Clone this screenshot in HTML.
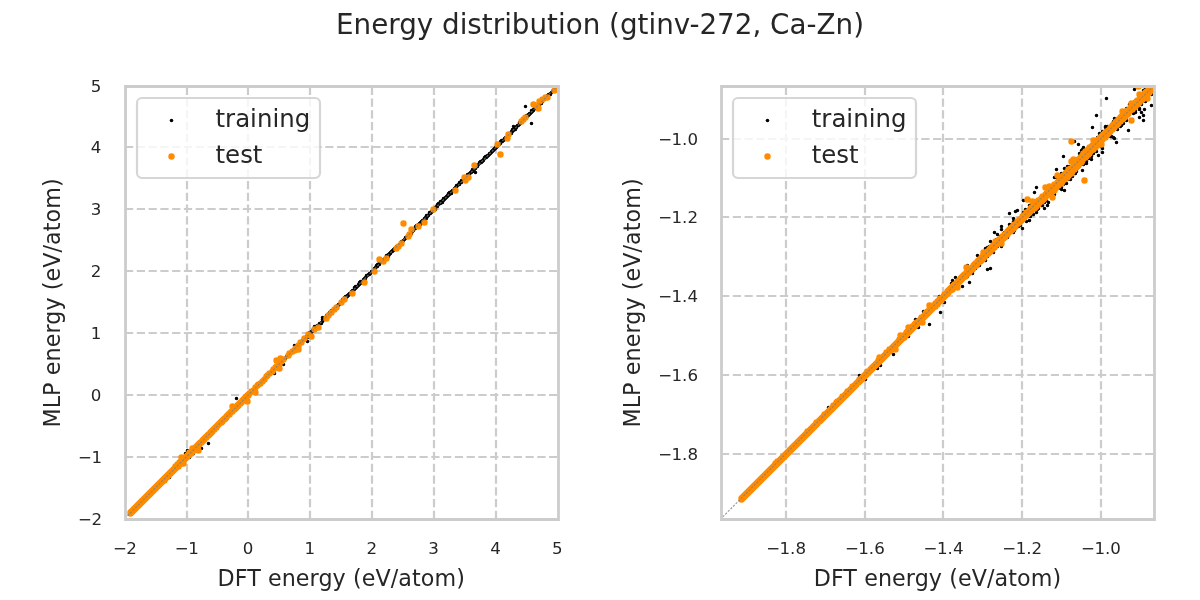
<!DOCTYPE html>
<html lang="en">
<head>
<meta charset="utf-8">
<title>Energy distribution (gtinv-272, Ca-Zn)</title>
<style>
html,body{margin:0;padding:0;background:#fff;}
body{width:1200px;height:600px;overflow:hidden;}
svg{display:block;}
text{font-family:"DejaVu Sans", "Liberation Sans", sans-serif;fill:#262626;}
.grid{stroke:#ccc;stroke-width:2.22;stroke-dasharray:8.22 3.56;fill:none;}
.spine{stroke:#ccc;stroke-width:2.78;stroke-linecap:square;fill:none;}
.diag{stroke:#808080;stroke-opacity:.8;stroke-width:1.15;stroke-dasharray:2.2 1.48;fill:none;}
.tr{stroke:#000;stroke-width:3.56;stroke-linecap:round;fill:none;}
.te{stroke:#ff8c00;stroke-width:6.4;stroke-linecap:round;fill:none;}
.tick{font-size:16.67px;}
.lab{font-size:22.22px;letter-spacing:.08px;}
.leg{font-size:24.44px;}
.title{font-size:27.78px;}
</style>
</head>
<body>
<svg width="1200" height="600" viewBox="0 0 1200 600">
<rect width="1200" height="600" fill="#fff"/>
<text class="title" x="336" y="34">Energy distribution (gtinv-272, Ca-Zn)</text>
<g id="axes0">
<clipPath id="clip0"><rect x="124.69" y="85.6" width="433.07" height="433.07"/></clipPath>
<path class="grid" d="M187 519V86M248 519V86M310 519V86M372 519V86M434 519V86M496 519V86M125 457H558M125 395H558M125 333H558M125 271H558M125 209H558M125 147H558"/>
<g clip-path="url(#clip0)">
<path class="tr" d="M164.5 478.5h0M165.5 477.5h0M165.5 478.5h0M166.5 477.5h0M166.5 476.5h0M167.5 475.5h0M167.5 474.5h0M168.5 475.5h0M169.5 473.5h0M169.5 474.5h0M170.5 472.5h0M170.5 473.5h0M171.5 472.5h0M171.5 471.5h0M172.5 470.5h0M172.5 469.5h0M172.5 471.5h0M173.5 470.5h0M174.5 468.5h0M174.5 467.5h0M175.5 469.5h0M175.5 467.5h0M176.5 467.5h0M177.5 467.5h0M177.5 466.5h0M178.5 466.5h0M178.5 464.5h0M178.5 465.5h0M179.5 465.5h0M179.5 463.5h0M180.5 464.5h0M181.5 463.5h0M181.5 461.5h0M182.5 462.5h0M182.5 461.5h0M183.5 459.5h0M183.5 458.5h0M183.5 460.5h0M184.5 460.5h0M184.5 459.5h0M185.5 459.5h0M185.5 456.5h0M186.5 457.5h0M186.5 455.5h0M187.5 454.5h0M187.5 455.5h0M187.5 456.5h0M188.5 454.5h0M188.5 453.5h0M189.5 455.5h0M189.5 454.5h0M190.5 454.5h0M190.5 452.5h0M190.5 453.5h0M191.5 451.5h0M191.5 452.5h0M192.5 452.5h0M192.5 451.5h0M193.5 449.5h0M193.5 450.5h0M193.5 448.5h0M194.5 449.5h0M195.5 449.5h0M143.5 499.5h0M148.5 494.5h0M149.5 494.5h0M151.5 492.5h0M153.5 490.5h0M155.5 488.5h0M156.5 487.5h0M157.5 486.5h0M159.5 485.5h0M161.5 484.5h0M161.5 482.5h0M157.5 485.5h0M158.5 483.5h0M161.5 481.5h0M163.5 478.5h0M163.5 479.5h0M164.5 480.5h0M165.5 479.5h0M168.5 474.5h0M168.5 473.5h0M169.5 472.5h0M169.5 471.5h0M170.5 471.5h0M170.5 470.5h0M168.5 477.5h0M169.5 477.5h0M167.5 476.5h0M165.5 476.5h0M180.5 459.5h0M179.5 461.5h0M180.5 461.5h0M176.5 464.5h0M176.5 465.5h0M174.5 466.5h0M173.5 468.5h0M172.5 468.5h0M174.5 469.5h0M174.5 470.5h0M175.5 468.5h0M176.5 468.5h0M178.5 467.5h0M183.5 461.5h0M179.5 462.5h0M180.5 462.5h0M182.5 457.5h0M183.5 457.5h0M187.5 450.5h0M185.5 453.5h0M185.5 455.5h0M191.5 449.5h0M194.5 451.5h0M193.5 452.5h0M193.5 453.5h0M192.5 453.5h0M190.5 455.5h0M188.5 456.5h0M189.5 457.5h0M186.5 458.5h0M185.5 458.5h0M186.5 459.5h0M185.5 460.5h0M195.5 447.5h0M195.5 448.5h0M196.5 447.5h0M196.5 446.5h0M197.5 445.5h0M197.5 446.5h0M198.5 444.5h0M199.5 443.5h0M199.5 442.5h0M200.5 443.5h0M200.5 441.5h0M201.5 441.5h0M201.5 442.5h0M202.5 440.5h0M202.5 441.5h0M203.5 439.5h0M203.5 440.5h0M204.5 438.5h0M204.5 439.5h0M205.5 437.5h0M206.5 437.5h0M206.5 436.5h0M207.5 437.5h0M207.5 436.5h0M208.5 434.5h0M208.5 435.5h0M208.5 433.5h0M209.5 433.5h0M210.5 433.5h0M210.5 432.5h0M211.5 432.5h0M211.5 431.5h0M212.5 430.5h0M213.5 429.5h0M213.5 430.5h0M214.5 428.5h0M215.5 427.5h0M215.5 426.5h0M215.5 428.5h0M216.5 426.5h0M216.5 425.5h0M217.5 426.5h0M217.5 425.5h0M218.5 424.5h0M219.5 424.5h0M220.5 422.5h0M221.5 421.5h0M222.5 421.5h0M222.5 420.5h0M223.5 419.5h0M224.5 419.5h0M224.5 418.5h0M225.5 417.5h0M225.5 418.5h0M226.5 417.5h0M226.5 416.5h0M227.5 415.5h0M228.5 415.5h0M228.5 414.5h0M229.5 412.5h0M229.5 414.5h0M230.5 413.5h0M231.5 412.5h0M231.5 411.5h0M232.5 411.5h0M233.5 409.5h0M234.5 409.5h0M234.5 408.5h0M235.5 407.5h0M236.5 407.5h0M237.5 405.5h0M238.5 405.5h0M238.5 404.5h0M239.5 404.5h0M239.5 403.5h0M240.5 403.5h0M240.5 401.5h0M241.5 402.5h0M242.5 400.5h0M242.5 399.5h0M243.5 401.5h0M243.5 400.5h0M244.5 398.5h0M244.5 397.5h0M245.5 398.5h0M245.5 396.5h0M246.5 398.5h0M246.5 397.5h0M247.5 395.5h0M248.5 395.5h0M248.5 394.5h0M249.5 394.5h0M249.5 392.5h0M250.5 392.5h0M250.5 393.5h0M251.5 392.5h0M252.5 390.5h0M253.5 389.5h0M253.5 390.5h0M254.5 389.5h0M254.5 388.5h0M255.5 388.5h0M255.5 386.5h0M256.5 388.5h0M256.5 386.5h0M257.5 386.5h0M258.5 384.5h0M259.5 384.5h0M259.5 383.5h0M260.5 382.5h0M260.5 383.5h0M261.5 382.5h0M262.5 380.5h0M262.5 381.5h0M263.5 381.5h0M263.5 379.5h0M264.5 378.5h0M265.5 377.5h0M266.5 377.5h0M266.5 376.5h0M267.5 376.5h0M268.5 374.5h0M268.5 373.5h0M269.5 374.5h0M269.5 373.5h0M270.5 373.5h0M270.5 372.5h0M271.5 371.5h0M272.5 370.5h0M273.5 370.5h0M274.5 369.5h0M274.5 368.5h0M275.5 367.5h0M275.5 368.5h0M276.5 367.5h0M276.5 366.5h0M277.5 365.5h0M277.5 366.5h0M278.5 365.5h0M278.5 363.5h0M279.5 364.5h0M279.5 363.5h0M280.5 363.5h0M280.5 362.5h0M281.5 361.5h0M281.5 362.5h0M282.5 360.5h0M283.5 360.5h0M283.5 359.5h0M284.5 358.5h0M285.5 358.5h0M286.5 356.5h0M287.5 356.5h0M287.5 355.5h0M288.5 354.5h0M289.5 353.5h0M289.5 352.5h0M290.5 353.5h0M290.5 352.5h0M291.5 352.5h0M291.5 351.5h0M292.5 350.5h0M292.5 351.5h0M293.5 350.5h0M293.5 349.5h0M294.5 349.5h0M294.5 348.5h0M295.5 349.5h0M295.5 348.5h0M296.5 348.5h0M296.5 346.5h0M297.5 345.5h0M298.5 344.5h0M298.5 345.5h0M299.5 343.5h0M299.5 344.5h0M300.5 343.5h0M300.5 342.5h0M301.5 342.5h0M301.5 341.5h0M302.5 341.5h0M302.5 340.5h0M303.5 338.5h0M304.5 339.5h0M304.5 338.5h0M305.5 339.5h0M305.5 338.5h0M306.5 336.5h0M306.5 337.5h0M307.5 337.5h0M307.5 334.5h0M308.5 335.5h0M309.5 334.5h0M309.5 333.5h0M309.5 332.5h0M310.5 332.5h0M311.5 332.5h0M311.5 331.5h0M312.5 330.5h0M312.5 331.5h0M313.5 330.5h0M313.5 328.5h0M314.5 328.5h0M315.5 328.5h0M315.5 326.5h0M315.5 327.5h0M316.5 327.5h0M317.5 325.5h0M318.5 325.5h0M319.5 323.5h0M320.5 323.5h0M321.5 323.5h0M321.5 322.5h0M322.5 321.5h0M322.5 319.5h0M323.5 319.5h0M324.5 319.5h0M324.5 318.5h0M325.5 318.5h0M326.5 316.5h0M326.5 317.5h0M326.5 315.5h0M327.5 315.5h0M327.5 314.5h0M328.5 315.5h0M328.5 314.5h0M329.5 314.5h0M329.5 312.5h0M330.5 314.5h0M330.5 313.5h0M331.5 312.5h0M331.5 310.5h0M332.5 310.5h0M332.5 311.5h0M333.5 309.5h0M334.5 308.5h0M334.5 309.5h0M335.5 308.5h0M336.5 307.5h0M337.5 305.5h0M338.5 305.5h0M338.5 304.5h0M339.5 304.5h0M340.5 303.5h0M340.5 302.5h0M341.5 301.5h0M342.5 301.5h0M342.5 299.5h0M343.5 300.5h0M343.5 299.5h0M344.5 299.5h0M344.5 297.5h0M345.5 297.5h0M345.5 296.5h0M346.5 297.5h0M347.5 296.5h0M347.5 295.5h0M348.5 294.5h0M348.5 295.5h0M349.5 294.5h0M349.5 293.5h0M350.5 293.5h0M351.5 292.5h0M351.5 291.5h0M352.5 290.5h0M352.5 291.5h0M353.5 291.5h0M353.5 290.5h0M354.5 289.5h0M354.5 287.5h0M355.5 287.5h0M355.5 288.5h0M355.5 286.5h0M356.5 287.5h0M357.5 286.5h0M358.5 285.5h0M358.5 284.5h0M359.5 283.5h0M359.5 284.5h0M359.5 282.5h0M360.5 281.5h0M360.5 283.5h0M361.5 282.5h0M362.5 281.5h0M363.5 279.5h0M364.5 279.5h0M364.5 278.5h0M365.5 277.5h0M365.5 278.5h0M366.5 276.5h0M366.5 275.5h0M367.5 275.5h0M368.5 274.5h0M369.5 273.5h0M369.5 274.5h0M370.5 273.5h0M371.5 272.5h0M371.5 271.5h0M372.5 271.5h0M373.5 270.5h0M374.5 269.5h0M374.5 268.5h0M375.5 267.5h0M375.5 268.5h0M376.5 265.5h0M377.5 266.5h0M377.5 264.5h0M378.5 264.5h0M379.5 264.5h0M379.5 262.5h0M380.5 262.5h0M381.5 261.5h0M381.5 260.5h0M382.5 260.5h0M383.5 259.5h0M384.5 259.5h0M385.5 257.5h0M385.5 258.5h0M386.5 257.5h0M386.5 255.5h0M387.5 256.5h0M387.5 255.5h0M388.5 256.5h0M388.5 254.5h0M389.5 254.5h0M389.5 253.5h0M390.5 253.5h0M390.5 252.5h0M391.5 251.5h0M392.5 250.5h0M392.5 251.5h0M393.5 249.5h0M393.5 250.5h0M394.5 248.5h0M395.5 248.5h0M396.5 246.5h0M397.5 246.5h0M398.5 245.5h0M399.5 244.5h0M400.5 243.5h0M401.5 241.5h0M402.5 242.5h0M402.5 241.5h0M403.5 240.5h0M404.5 239.5h0M405.5 238.5h0M405.5 237.5h0M406.5 237.5h0M407.5 236.5h0M407.5 235.5h0M408.5 235.5h0M408.5 234.5h0M409.5 234.5h0M410.5 232.5h0M410.5 233.5h0M411.5 233.5h0M411.5 230.5h0M412.5 230.5h0M412.5 231.5h0M413.5 229.5h0M413.5 230.5h0M414.5 228.5h0M415.5 227.5h0M415.5 228.5h0M415.5 226.5h0M416.5 227.5h0M416.5 225.5h0M417.5 226.5h0M418.5 224.5h0M419.5 223.5h0M420.5 224.5h0M420.5 223.5h0M420.5 222.5h0M421.5 222.5h0M421.5 221.5h0M422.5 221.5h0M422.5 220.5h0M423.5 220.5h0M424.5 218.5h0M425.5 217.5h0M426.5 218.5h0M426.5 215.5h0M427.5 215.5h0M427.5 216.5h0M428.5 215.5h0M429.5 213.5h0M429.5 212.5h0M430.5 212.5h0M430.5 213.5h0M431.5 212.5h0M431.5 211.5h0M432.5 211.5h0M432.5 209.5h0M433.5 210.5h0M433.5 209.5h0M434.5 208.5h0M434.5 209.5h0M435.5 209.5h0M435.5 207.5h0M436.5 206.5h0M437.5 206.5h0M437.5 204.5h0M438.5 204.5h0M438.5 203.5h0M439.5 203.5h0M440.5 203.5h0M440.5 201.5h0M441.5 201.5h0M441.5 202.5h0M442.5 202.5h0M442.5 200.5h0M443.5 200.5h0M443.5 198.5h0M444.5 199.5h0M444.5 198.5h0M445.5 197.5h0M445.5 198.5h0M446.5 197.5h0M446.5 196.5h0M447.5 196.5h0M447.5 195.5h0M448.5 195.5h0M448.5 194.5h0M449.5 194.5h0M449.5 192.5h0M450.5 193.5h0M450.5 192.5h0M451.5 193.5h0M451.5 191.5h0M452.5 190.5h0M453.5 190.5h0M454.5 190.5h0M454.5 188.5h0M455.5 187.5h0M456.5 187.5h0M456.5 186.5h0M456.5 185.5h0M457.5 185.5h0M458.5 184.5h0M459.5 184.5h0M459.5 182.5h0M460.5 182.5h0M461.5 182.5h0M461.5 181.5h0M461.5 180.5h0M462.5 181.5h0M462.5 180.5h0M463.5 179.5h0M464.5 179.5h0M464.5 178.5h0M464.5 177.5h0M465.5 177.5h0M466.5 176.5h0M466.5 177.5h0M467.5 176.5h0M467.5 174.5h0M468.5 175.5h0M469.5 173.5h0M469.5 174.5h0M470.5 172.5h0M471.5 172.5h0M471.5 171.5h0M472.5 171.5h0M472.5 169.5h0M473.5 169.5h0M473.5 170.5h0M474.5 169.5h0M474.5 168.5h0M475.5 168.5h0M475.5 166.5h0M476.5 166.5h0M477.5 166.5h0M477.5 165.5h0M478.5 164.5h0M479.5 163.5h0M480.5 162.5h0M480.5 161.5h0M481.5 162.5h0M482.5 161.5h0M482.5 160.5h0M483.5 160.5h0M483.5 159.5h0M484.5 158.5h0M484.5 157.5h0M485.5 157.5h0M485.5 156.5h0M486.5 157.5h0M487.5 155.5h0M487.5 156.5h0M488.5 155.5h0M489.5 154.5h0M489.5 153.5h0M490.5 153.5h0M491.5 151.5h0M491.5 152.5h0M492.5 151.5h0M492.5 150.5h0M493.5 150.5h0M493.5 149.5h0M494.5 148.5h0M494.5 149.5h0M495.5 147.5h0M495.5 148.5h0M496.5 147.5h0M496.5 145.5h0M497.5 146.5h0M498.5 145.5h0M499.5 144.5h0M499.5 143.5h0M500.5 143.5h0M500.5 141.5h0M501.5 140.5h0M501.5 141.5h0M502.5 141.5h0M502.5 140.5h0M503.5 140.5h0M504.5 138.5h0M505.5 139.5h0M505.5 137.5h0M506.5 138.5h0M506.5 137.5h0M507.5 136.5h0M508.5 135.5h0M508.5 134.5h0M509.5 134.5h0M509.5 133.5h0M510.5 133.5h0M511.5 133.5h0M511.5 131.5h0M512.5 131.5h0M512.5 130.5h0M512.5 129.5h0M513.5 130.5h0M514.5 128.5h0M515.5 129.5h0M515.5 127.5h0M516.5 126.5h0M516.5 127.5h0M517.5 125.5h0M518.5 125.5h0M519.5 124.5h0M519.5 123.5h0M519.5 122.5h0M520.5 123.5h0M520.5 121.5h0M521.5 121.5h0M522.5 120.5h0M523.5 118.5h0M523.5 119.5h0M524.5 119.5h0M524.5 117.5h0M525.5 117.5h0M526.5 117.5h0M526.5 115.5h0M527.5 115.5h0M527.5 116.5h0M528.5 115.5h0M528.5 114.5h0M529.5 114.5h0M529.5 113.5h0M530.5 113.5h0M531.5 112.5h0M531.5 110.5h0M532.5 111.5h0M532.5 110.5h0M533.5 109.5h0M533.5 110.5h0M534.5 108.5h0M535.5 108.5h0M535.5 107.5h0M536.5 106.5h0M536.5 107.5h0M537.5 105.5h0M537.5 106.5h0M538.5 104.5h0M539.5 103.5h0M539.5 104.5h0M540.5 102.5h0M541.5 103.5h0M541.5 102.5h0M542.5 100.5h0M542.5 101.5h0M543.5 99.5h0M544.5 99.5h0M544.5 98.5h0M545.5 98.5h0M546.5 96.5h0M547.5 95.5h0M548.5 94.5h0M549.5 94.5h0M550.5 94.5h0M550.5 93.5h0M551.5 92.5h0M552.5 91.5h0M553.5 89.5h0M554.5 89.5h0M555.5 88.5h0M208.5 443.5h0M201.5 448.5h0M236.5 398.5h0M307.5 341.5h0M283.5 364.5h0M274.5 373.5h0M294.5 345.5h0M314.5 326.5h0M322.5 317.5h0M440.5 202.5h0M448.5 193.5h0M479.5 162.5h0M475.5 172.5h0M525.5 106.5h0M531.5 123.5h0M513.5 126.5h0"/>
<path class="te" d="M130.5 513.5h0M130.5 512.5h0M131.5 512.5h0M131.5 511.5h0M132.5 511.5h0M132.5 510.5h0M133.5 510.5h0M133.5 509.5h0M134.5 509.5h0M134.5 508.5h0M135.5 508.5h0M135.5 507.5h0M136.5 507.5h0M136.5 506.5h0M137.5 506.5h0M137.5 505.5h0M138.5 505.5h0M138.5 504.5h0M139.5 504.5h0M139.5 503.5h0M140.5 503.5h0M140.5 502.5h0M141.5 502.5h0M141.5 501.5h0M142.5 501.5h0M142.5 500.5h0M143.5 500.5h0M143.5 499.5h0M144.5 499.5h0M144.5 498.5h0M145.5 498.5h0M145.5 497.5h0M146.5 497.5h0M146.5 496.5h0M147.5 496.5h0M147.5 495.5h0M148.5 495.5h0M148.5 494.5h0M149.5 494.5h0M149.5 493.5h0M150.5 493.5h0M150.5 492.5h0M151.5 492.5h0M151.5 491.5h0M152.5 491.5h0M152.5 490.5h0M153.5 490.5h0M153.5 489.5h0M154.5 489.5h0M154.5 488.5h0M155.5 488.5h0M155.5 487.5h0M156.5 487.5h0M156.5 486.5h0M157.5 486.5h0M157.5 485.5h0M158.5 485.5h0M158.5 484.5h0M159.5 484.5h0M159.5 483.5h0M160.5 483.5h0M160.5 482.5h0M161.5 482.5h0M161.5 481.5h0M162.5 481.5h0M162.5 480.5h0M163.5 480.5h0M163.5 479.5h0M164.5 479.5h0M164.5 478.5h0M165.5 478.5h0M165.5 477.5h0M166.5 477.5h0M166.5 476.5h0M167.5 476.5h0M167.5 475.5h0M168.5 475.5h0M168.5 474.5h0M169.5 474.5h0M169.5 473.5h0M170.5 473.5h0M170.5 472.5h0M171.5 472.5h0M171.5 471.5h0M172.5 471.5h0M172.5 470.5h0M173.5 470.5h0M173.5 469.5h0M174.5 469.5h0M174.5 468.5h0M175.5 468.5h0M175.5 467.5h0M176.5 467.5h0M176.5 466.5h0M177.5 466.5h0M177.5 465.5h0M178.5 465.5h0M178.5 464.5h0M179.5 464.5h0M179.5 463.5h0M180.5 463.5h0M180.5 462.5h0M181.5 462.5h0M181.5 461.5h0M182.5 461.5h0M182.5 460.5h0M183.5 460.5h0M183.5 461.5h0M183.5 459.5h0M184.5 459.5h0M184.5 458.5h0M185.5 458.5h0M185.5 457.5h0M186.5 457.5h0M186.5 456.5h0M187.5 456.5h0M187.5 455.5h0M188.5 455.5h0M188.5 454.5h0M189.5 454.5h0M189.5 453.5h0M190.5 453.5h0M190.5 452.5h0M191.5 452.5h0M191.5 451.5h0M192.5 451.5h0M192.5 450.5h0M193.5 450.5h0M193.5 449.5h0M194.5 449.5h0M194.5 448.5h0M195.5 448.5h0M164.5 480.5h0M183.5 463.5h0M175.5 466.5h0M177.5 464.5h0M179.5 462.5h0M178.5 466.5h0M181.5 460.5h0M181.5 457.5h0M191.5 453.5h0M189.5 452.5h0M192.5 448.5h0M192.5 449.5h0M195.5 447.5h0M196.5 446.5h0M197.5 445.5h0M198.5 445.5h0M198.5 444.5h0M199.5 444.5h0M199.5 443.5h0M200.5 442.5h0M201.5 442.5h0M202.5 441.5h0M202.5 440.5h0M203.5 440.5h0M203.5 439.5h0M204.5 439.5h0M204.5 438.5h0M205.5 437.5h0M206.5 437.5h0M206.5 436.5h0M207.5 435.5h0M208.5 435.5h0M208.5 434.5h0M209.5 434.5h0M210.5 433.5h0M210.5 432.5h0M211.5 432.5h0M211.5 431.5h0M212.5 431.5h0M212.5 430.5h0M213.5 429.5h0M214.5 429.5h0M214.5 428.5h0M215.5 427.5h0M216.5 427.5h0M216.5 426.5h0M217.5 425.5h0M218.5 424.5h0M219.5 423.5h0M220.5 422.5h0M221.5 422.5h0M221.5 421.5h0M222.5 421.5h0M222.5 420.5h0M223.5 419.5h0M224.5 419.5h0M224.5 418.5h0M225.5 418.5h0M226.5 417.5h0M226.5 416.5h0M227.5 415.5h0M228.5 414.5h0M229.5 414.5h0M229.5 413.5h0M230.5 412.5h0M231.5 411.5h0M232.5 411.5h0M232.5 410.5h0M233.5 409.5h0M234.5 409.5h0M234.5 408.5h0M235.5 408.5h0M235.5 407.5h0M236.5 407.5h0M237.5 406.5h0M237.5 405.5h0M238.5 405.5h0M238.5 404.5h0M239.5 403.5h0M240.5 403.5h0M240.5 402.5h0M241.5 402.5h0M242.5 400.5h0M243.5 399.5h0M244.5 398.5h0M245.5 398.5h0M245.5 397.5h0M246.5 397.5h0M246.5 396.5h0M247.5 395.5h0M248.5 395.5h0M248.5 394.5h0M249.5 393.5h0M251.5 391.5h0M253.5 390.5h0M255.5 387.5h0M257.5 385.5h0M258.5 384.5h0M260.5 383.5h0M262.5 381.5h0M264.5 379.5h0M266.5 376.5h0M267.5 375.5h0M269.5 373.5h0M272.5 371.5h0M273.5 369.5h0M275.5 367.5h0M276.5 366.5h0M279.5 364.5h0M281.5 361.5h0M283.5 359.5h0M288.5 355.5h0M289.5 353.5h0M292.5 351.5h0M295.5 348.5h0M298.5 345.5h0M300.5 342.5h0M232.5 406.5h0M198.5 450.5h0M276.5 360.5h0M280.5 358.5h0M247.5 401.5h0M255.5 392.5h0M279.5 368.5h0M298.5 349.5h0M294.5 350.5h0M298.5 346.5h0M301.5 342.5h0M304.5 338.5h0M311.5 336.5h0M308.5 334.5h0M314.5 329.5h0M318.5 327.5h0M326.5 318.5h0M328.5 315.5h0M331.5 312.5h0M334.5 309.5h0M336.5 307.5h0M341.5 302.5h0M344.5 299.5h0M352.5 293.5h0M364.5 282.5h0M374.5 271.5h0M379.5 259.5h0M383.5 261.5h0M386.5 258.5h0M396.5 248.5h0M398.5 246.5h0M401.5 243.5h0M408.5 236.5h0M409.5 234.5h0M411.5 229.5h0M403.5 223.5h0M418.5 226.5h0M424.5 222.5h0M433.5 209.5h0M455.5 190.5h0M464.5 177.5h0M468.5 177.5h0M465.5 180.5h0M474.5 165.5h0M497.5 144.5h0M500.5 154.5h0M508.5 134.5h0M507.5 138.5h0M521.5 121.5h0M523.5 119.5h0M525.5 117.5h0M533.5 104.5h0M538.5 108.5h0M539.5 101.5h0M542.5 99.5h0M545.5 97.5h0M547.5 97.5h0M554.5 90.5h0M537.5 106.5h0"/>
<path class="diag" stroke-dashoffset="-0.9" d="M121.69 521.67L560.76 82.6"/>
</g>
<path class="spine" d="M125.5 519.5V86.5M558.5 519.5V86.5M125.5 519.5H558.5M125.5 86.5H558.5"/>
<rect x="137" y="98" width="183" height="80" rx="4.89" ry="4.89" fill="#fff" fill-opacity="0.8" stroke="#ccc" stroke-opacity="0.8" stroke-width="2.22"/>
<circle cx="171.5" cy="120.5" r="1.78" fill="#000"/>
<circle cx="171.5" cy="156.5" r="3.2" fill="#ff8c00"/>
<text class="leg" x="215.53" y="126.6">training</text>
<text class="leg" x="215.53" y="162.82">test</text>
<text class="tick" text-anchor="middle" x="124.29" y="553.95"><tspan dx="0.6">−</tspan><tspan dx="-0.6">2</tspan></text>
<text class="tick" text-anchor="middle" x="186.15" y="553.95"><tspan dx="0.6">−</tspan><tspan dx="-0.6">1</tspan></text>
<text class="tick" text-anchor="middle" x="248.02" y="553.95">0</text>
<text class="tick" text-anchor="middle" x="309.89" y="553.95">1</text>
<text class="tick" text-anchor="middle" x="371.75" y="553.95">2</text>
<text class="tick" text-anchor="middle" x="433.62" y="553.95">3</text>
<text class="tick" text-anchor="middle" x="495.49" y="553.95">4</text>
<text class="tick" text-anchor="middle" x="557.36" y="553.95">5</text>
<text class="tick" text-anchor="end" x="101.4" y="524.67"><tspan dx="0.6">−</tspan><tspan dx="-0.6">2</tspan></text>
<text class="tick" text-anchor="end" x="101.4" y="462.8"><tspan dx="0.6">−</tspan><tspan dx="-0.6">1</tspan></text>
<text class="tick" text-anchor="end" x="101.4" y="400.94">0</text>
<text class="tick" text-anchor="end" x="101.4" y="339.07">1</text>
<text class="tick" text-anchor="end" x="101.4" y="277.2">2</text>
<text class="tick" text-anchor="end" x="101.4" y="215.33">3</text>
<text class="tick" text-anchor="end" x="101.4" y="153.47">4</text>
<text class="tick" text-anchor="end" x="101.4" y="91.6">5</text>
<text class="lab" text-anchor="middle" x="341.22" y="586">DFT energy (eV/atom)</text>
<text class="lab" text-anchor="middle" transform="translate(60 302.93) rotate(-90)">MLP energy (eV/atom)</text>
</g>
<g id="axes1">
<clipPath id="clip1"><rect x="720.91" y="85.6" width="433.07" height="433.07"/></clipPath>
<path class="grid" d="M786 519V86M865 519V86M943 519V86M1022 519V86M1101 519V86M721 454H1154M721 375H1154M721 296H1154M721 217H1154M721 139H1154"/>
<g clip-path="url(#clip1)">
<path class="tr" d="M960.5 278.5h0M962.5 279.5h0M965.5 272.5h0M967.5 276.5h0M970.5 273.5h0M971.5 266.5h0M975.5 268.5h0M977.5 259.5h0M978.5 258.5h0M982.5 253.5h0M985.5 257.5h0M987.5 256.5h0M989.5 246.5h0M993.5 250.5h0M996.5 239.5h0M997.5 246.5h0M1000.5 236.5h0M1002.5 241.5h0M1004.5 232.5h0M1007.5 237.5h0M1011.5 224.5h0M1013.5 221.5h0M1014.5 230.5h0M1018.5 226.5h0M1020.5 225.5h0M1023.5 212.5h0M1025.5 209.5h0M1028.5 216.5h0M1030.5 216.5h0M1032.5 203.5h0M1037.5 209.5h0M1038.5 208.5h0M1041.5 205.5h0M1044.5 202.5h0M1046.5 200.5h0M1047.5 187.5h0M1051.5 196.5h0M1054.5 194.5h0M1057.5 178.5h0M1060.5 188.5h0M1061.5 187.5h0M1063.5 184.5h0M1067.5 179.5h0M1069.5 166.5h0M1072.5 176.5h0M1074.5 173.5h0M1076.5 171.5h0M1079.5 153.5h0M1081.5 150.5h0M1083.5 164.5h0M1086.5 161.5h0M1088.5 158.5h0M1091.5 154.5h0M1093.5 153.5h0M1097.5 137.5h0M1100.5 145.5h0M1102.5 131.5h0M1105.5 126.5h0M1106.5 127.5h0M1110.5 136.5h0M1113.5 121.5h0M1114.5 118.5h0M1117.5 129.5h0M1120.5 126.5h0M1123.5 123.5h0M1126.5 108.5h0M1126.5 120.5h0M1129.5 104.5h0M1133.5 113.5h0M1135.5 110.5h0M1139.5 108.5h0M1141.5 104.5h0M1143.5 90.5h0M1145.5 101.5h0M1147.5 87.5h0M1151.5 94.5h0M1154.5 91.5h0M828.5 407.5h0M859.5 375.5h0M865.5 379.5h0M880.5 365.5h0M893.5 354.5h0M900.5 342.5h0M908.5 336.5h0M918.5 327.5h0M929.5 324.5h0M940.5 312.5h0M944.5 302.5h0M915.5 319.5h0M923.5 311.5h0M877.5 368.5h0M939.5 296.5h0M955.5 277.5h0M952.5 280.5h0M951.5 283.5h0M962.5 286.5h0M969.5 282.5h0M977.5 255.5h0M985.5 248.5h0M987.5 247.5h0M990.5 241.5h0M994.5 232.5h0M997.5 234.5h0M1001.5 226.5h0M1001.5 229.5h0M1009.5 224.5h0M987.5 269.5h0M990.5 268.5h0M993.5 252.5h0M1001.5 246.5h0M985.5 260.5h0M979.5 265.5h0M1013.5 232.5h0M972.5 273.5h0M967.5 265.5h0M1063.5 156.5h0M1056.5 169.5h0M1064.5 168.5h0M1067.5 166.5h0M1036.5 187.5h0M1034.5 192.5h0M1023.5 200.5h0M1017.5 210.5h0M1015.5 211.5h0M1009.5 213.5h0M1013.5 218.5h0M1029.5 205.5h0M1029.5 220.5h0M1026.5 221.5h0M1022.5 228.5h0M1033.5 214.5h0M1036.5 212.5h0M1044.5 208.5h0M1042.5 205.5h0M1047.5 205.5h0M1048.5 202.5h0M1061.5 189.5h0M1064.5 190.5h0M1066.5 183.5h0M1070.5 179.5h0M1075.5 173.5h0M1082.5 170.5h0M1086.5 163.5h0M1054.5 177.5h0M1061.5 173.5h0M1074.5 141.5h0M1078.5 144.5h0M1106.5 98.5h0M1096.5 115.5h0M1092.5 127.5h0M1134.5 89.5h0M1151.5 105.5h0M1144.5 109.5h0M1139.5 109.5h0M1141.5 112.5h0M1143.5 115.5h0M1139.5 117.5h0M1143.5 120.5h0M1128.5 130.5h0M1121.5 125.5h0M1113.5 137.5h0M1111.5 136.5h0M1114.5 138.5h0M1116.5 142.5h0M1107.5 126.5h0M1105.5 127.5h0M1099.5 133.5h0M1083.5 147.5h0M1082.5 149.5h0M1102.5 148.5h0M1101.5 146.5h0M1096.5 151.5h0M1102.5 152.5h0M1098.5 155.5h0M1091.5 156.5h0M1091.5 159.5h0M1135.5 112.5h0M1145.5 88.5h0M1155.5 79.5h0M1158.5 84.5h0"/>
<path class="te" d="M741.5 499.5h0M741.5 498.5h0M742.5 498.5h0M742.5 497.5h0M743.5 497.5h0M743.5 496.5h0M744.5 496.5h0M744.5 495.5h0M745.5 495.5h0M745.5 494.5h0M746.5 494.5h0M746.5 493.5h0M747.5 493.5h0M747.5 492.5h0M748.5 492.5h0M748.5 491.5h0M749.5 491.5h0M749.5 490.5h0M750.5 490.5h0M750.5 489.5h0M751.5 489.5h0M751.5 488.5h0M752.5 488.5h0M752.5 487.5h0M753.5 486.5h0M753.5 487.5h0M754.5 486.5h0M754.5 485.5h0M755.5 485.5h0M755.5 484.5h0M756.5 483.5h0M756.5 484.5h0M757.5 483.5h0M757.5 482.5h0M758.5 482.5h0M758.5 481.5h0M759.5 481.5h0M759.5 480.5h0M760.5 480.5h0M760.5 479.5h0M761.5 478.5h0M761.5 479.5h0M762.5 478.5h0M762.5 477.5h0M763.5 476.5h0M763.5 477.5h0M764.5 476.5h0M764.5 475.5h0M765.5 475.5h0M765.5 474.5h0M766.5 474.5h0M766.5 473.5h0M767.5 473.5h0M767.5 472.5h0M768.5 471.5h0M768.5 472.5h0M769.5 471.5h0M769.5 470.5h0M770.5 470.5h0M770.5 469.5h0M771.5 468.5h0M771.5 469.5h0M772.5 468.5h0M772.5 467.5h0M773.5 467.5h0M773.5 466.5h0M774.5 466.5h0M774.5 465.5h0M775.5 465.5h0M775.5 464.5h0M775.5 463.5h0M776.5 464.5h0M776.5 463.5h0M777.5 463.5h0M777.5 462.5h0M777.5 461.5h0M778.5 462.5h0M778.5 461.5h0M779.5 461.5h0M779.5 460.5h0M780.5 459.5h0M780.5 460.5h0M781.5 459.5h0M781.5 458.5h0M782.5 458.5h0M782.5 457.5h0M783.5 457.5h0M783.5 456.5h0M784.5 456.5h0M784.5 455.5h0M785.5 455.5h0M785.5 454.5h0M786.5 453.5h0M786.5 454.5h0M787.5 453.5h0M787.5 452.5h0M788.5 452.5h0M788.5 451.5h0M789.5 451.5h0M789.5 450.5h0M790.5 449.5h0M790.5 450.5h0M791.5 448.5h0M791.5 449.5h0M792.5 448.5h0M792.5 447.5h0M793.5 447.5h0M793.5 446.5h0M794.5 446.5h0M794.5 445.5h0M795.5 445.5h0M795.5 444.5h0M796.5 444.5h0M796.5 443.5h0M797.5 443.5h0M797.5 442.5h0M798.5 442.5h0M798.5 441.5h0M799.5 440.5h0M799.5 441.5h0M800.5 440.5h0M800.5 439.5h0M801.5 439.5h0M801.5 438.5h0M802.5 438.5h0M802.5 437.5h0M803.5 437.5h0M803.5 436.5h0M804.5 436.5h0M804.5 435.5h0M805.5 435.5h0M805.5 434.5h0M806.5 434.5h0M806.5 433.5h0M807.5 432.5h0M807.5 433.5h0M807.5 431.5h0M808.5 432.5h0M808.5 431.5h0M809.5 431.5h0M809.5 430.5h0M810.5 430.5h0M810.5 429.5h0M811.5 429.5h0M811.5 428.5h0M812.5 428.5h0M812.5 427.5h0M813.5 427.5h0M813.5 426.5h0M814.5 426.5h0M814.5 425.5h0M815.5 425.5h0M815.5 424.5h0M816.5 424.5h0M816.5 423.5h0M816.5 422.5h0M817.5 423.5h0M817.5 422.5h0M818.5 421.5h0M819.5 421.5h0M819.5 420.5h0M820.5 420.5h0M820.5 419.5h0M821.5 419.5h0M821.5 418.5h0M822.5 418.5h0M822.5 417.5h0M823.5 416.5h0M823.5 417.5h0M824.5 416.5h0M824.5 415.5h0M824.5 414.5h0M825.5 415.5h0M825.5 414.5h0M826.5 414.5h0M826.5 413.5h0M827.5 412.5h0M827.5 413.5h0M828.5 412.5h0M828.5 411.5h0M829.5 411.5h0M829.5 410.5h0M830.5 410.5h0M830.5 409.5h0M831.5 409.5h0M831.5 408.5h0M832.5 408.5h0M832.5 407.5h0M833.5 406.5h0M833.5 407.5h0M833.5 405.5h0M834.5 406.5h0M834.5 405.5h0M835.5 405.5h0M835.5 404.5h0M836.5 404.5h0M836.5 403.5h0M836.5 402.5h0M837.5 403.5h0M837.5 402.5h0M837.5 401.5h0M838.5 402.5h0M838.5 401.5h0M839.5 401.5h0M839.5 400.5h0M840.5 399.5h0M840.5 400.5h0M841.5 399.5h0M841.5 398.5h0M842.5 398.5h0M842.5 397.5h0M842.5 396.5h0M843.5 397.5h0M843.5 396.5h0M844.5 396.5h0M844.5 395.5h0M845.5 395.5h0M845.5 394.5h0M846.5 394.5h0M846.5 393.5h0M847.5 393.5h0M847.5 392.5h0M847.5 391.5h0M848.5 391.5h0M848.5 392.5h0M849.5 390.5h0M849.5 391.5h0M850.5 389.5h0M850.5 390.5h0M851.5 388.5h0M851.5 389.5h0M852.5 388.5h0M852.5 387.5h0M852.5 386.5h0M853.5 387.5h0M853.5 386.5h0M854.5 386.5h0M854.5 385.5h0M855.5 384.5h0M855.5 385.5h0M856.5 384.5h0M856.5 383.5h0M857.5 382.5h0M858.5 382.5h0M858.5 381.5h0M859.5 381.5h0M859.5 380.5h0M859.5 379.5h0M860.5 379.5h0M860.5 380.5h0M861.5 378.5h0M861.5 379.5h0M862.5 378.5h0M862.5 377.5h0M863.5 377.5h0M863.5 376.5h0M864.5 376.5h0M864.5 375.5h0M865.5 375.5h0M865.5 374.5h0M866.5 374.5h0M866.5 373.5h0M867.5 373.5h0M867.5 372.5h0M867.5 371.5h0M868.5 371.5h0M868.5 372.5h0M869.5 371.5h0M870.5 370.5h0M870.5 369.5h0M871.5 369.5h0M871.5 368.5h0M872.5 368.5h0M872.5 367.5h0M873.5 367.5h0M873.5 366.5h0M874.5 365.5h0M874.5 366.5h0M875.5 365.5h0M875.5 364.5h0M876.5 364.5h0M876.5 363.5h0M877.5 363.5h0M877.5 362.5h0M878.5 362.5h0M878.5 361.5h0M878.5 360.5h0M879.5 361.5h0M879.5 360.5h0M880.5 359.5h0M880.5 360.5h0M881.5 358.5h0M881.5 359.5h0M882.5 358.5h0M882.5 357.5h0M883.5 356.5h0M883.5 357.5h0M884.5 356.5h0M884.5 355.5h0M885.5 355.5h0M885.5 354.5h0M886.5 354.5h0M886.5 353.5h0M886.5 352.5h0M887.5 352.5h0M887.5 353.5h0M888.5 351.5h0M889.5 350.5h0M889.5 351.5h0M889.5 349.5h0M890.5 349.5h0M890.5 350.5h0M891.5 348.5h0M891.5 349.5h0M892.5 348.5h0M892.5 347.5h0M893.5 348.5h0M893.5 346.5h0M893.5 347.5h0M894.5 346.5h0M894.5 345.5h0M895.5 344.5h0M895.5 345.5h0M896.5 344.5h0M896.5 343.5h0M897.5 343.5h0M897.5 342.5h0M898.5 342.5h0M898.5 341.5h0M899.5 341.5h0M899.5 340.5h0M899.5 339.5h0M900.5 340.5h0M900.5 339.5h0M900.5 338.5h0M901.5 339.5h0M901.5 338.5h0M902.5 337.5h0M902.5 338.5h0M902.5 336.5h0M903.5 337.5h0M903.5 336.5h0M904.5 337.5h0M904.5 336.5h0M904.5 335.5h0M905.5 335.5h0M905.5 334.5h0M906.5 333.5h0M906.5 334.5h0M906.5 332.5h0M907.5 333.5h0M907.5 332.5h0M907.5 331.5h0M908.5 332.5h0M908.5 331.5h0M909.5 330.5h0M909.5 331.5h0M910.5 330.5h0M910.5 329.5h0M911.5 329.5h0M911.5 328.5h0M912.5 328.5h0M912.5 327.5h0M912.5 326.5h0M913.5 327.5h0M913.5 326.5h0M914.5 326.5h0M914.5 325.5h0M914.5 324.5h0M915.5 324.5h0M915.5 325.5h0M915.5 323.5h0M916.5 324.5h0M916.5 323.5h0M916.5 322.5h0M917.5 323.5h0M917.5 322.5h0M918.5 321.5h0M919.5 321.5h0M919.5 320.5h0M920.5 319.5h0M920.5 320.5h0M921.5 320.5h0M921.5 319.5h0M921.5 318.5h0M921.5 317.5h0M922.5 317.5h0M922.5 318.5h0M923.5 317.5h0M923.5 316.5h0M924.5 316.5h0M924.5 315.5h0M925.5 315.5h0M925.5 314.5h0M925.5 313.5h0M926.5 314.5h0M926.5 313.5h0M926.5 312.5h0M927.5 313.5h0M927.5 312.5h0M927.5 311.5h0M928.5 311.5h0M928.5 312.5h0M929.5 310.5h0M929.5 311.5h0M929.5 309.5h0M930.5 310.5h0M930.5 309.5h0M930.5 308.5h0M931.5 309.5h0M931.5 308.5h0M932.5 308.5h0M932.5 307.5h0M932.5 306.5h0M933.5 307.5h0M933.5 306.5h0M933.5 305.5h0M934.5 305.5h0M934.5 306.5h0M935.5 306.5h0M935.5 305.5h0M935.5 304.5h0M935.5 303.5h0M936.5 304.5h0M936.5 303.5h0M937.5 304.5h0M937.5 302.5h0M937.5 303.5h0M937.5 301.5h0M938.5 302.5h0M938.5 301.5h0M939.5 300.5h0M939.5 301.5h0M939.5 299.5h0M940.5 299.5h0M940.5 300.5h0M940.5 298.5h0M941.5 300.5h0M941.5 298.5h0M941.5 299.5h0M942.5 297.5h0M942.5 298.5h0M943.5 297.5h0M943.5 296.5h0M944.5 296.5h0M944.5 295.5h0M944.5 294.5h0M945.5 295.5h0M945.5 294.5h0M946.5 293.5h0M946.5 294.5h0M947.5 293.5h0M947.5 291.5h0M947.5 292.5h0M948.5 292.5h0M948.5 290.5h0M949.5 290.5h0M949.5 289.5h0M950.5 290.5h0M950.5 289.5h0M950.5 288.5h0M951.5 288.5h0M951.5 289.5h0M951.5 287.5h0M952.5 289.5h0M952.5 287.5h0M952.5 288.5h0M952.5 286.5h0M953.5 287.5h0M953.5 286.5h0M953.5 285.5h0M954.5 285.5h0M954.5 286.5h0M954.5 284.5h0M955.5 285.5h0M955.5 284.5h0M956.5 284.5h0M956.5 283.5h0M957.5 282.5h0M957.5 283.5h0M957.5 281.5h0M958.5 282.5h0M958.5 281.5h0M959.5 281.5h0M959.5 280.5h0M960.5 280.5h0M960.5 279.5h0M960.5 278.5h0M961.5 279.5h0M961.5 278.5h0M961.5 277.5h0M962.5 278.5h0M962.5 277.5h0M962.5 276.5h0M963.5 276.5h0M963.5 277.5h0M963.5 275.5h0M964.5 275.5h0M964.5 274.5h0M965.5 276.5h0M965.5 274.5h0M965.5 275.5h0M966.5 274.5h0M966.5 273.5h0M966.5 272.5h0M967.5 273.5h0M967.5 272.5h0M968.5 272.5h0M968.5 271.5h0M968.5 270.5h0M969.5 272.5h0M969.5 270.5h0M969.5 271.5h0M969.5 269.5h0M970.5 270.5h0M970.5 269.5h0M970.5 268.5h0M971.5 269.5h0M971.5 268.5h0M972.5 268.5h0M972.5 269.5h0M972.5 267.5h0M973.5 267.5h0M973.5 266.5h0M973.5 265.5h0M974.5 266.5h0M974.5 265.5h0M974.5 264.5h0M975.5 264.5h0M975.5 265.5h0M975.5 263.5h0M976.5 265.5h0M976.5 263.5h0M976.5 264.5h0M977.5 263.5h0M977.5 262.5h0M977.5 261.5h0M978.5 261.5h0M978.5 262.5h0M978.5 260.5h0M979.5 260.5h0M979.5 261.5h0M979.5 259.5h0M980.5 261.5h0M980.5 260.5h0M980.5 259.5h0M981.5 259.5h0M981.5 260.5h0M981.5 258.5h0M981.5 257.5h0M982.5 259.5h0M982.5 257.5h0M982.5 258.5h0M982.5 256.5h0M983.5 256.5h0M983.5 258.5h0M983.5 257.5h0M984.5 255.5h0M984.5 256.5h0M984.5 254.5h0M985.5 254.5h0M985.5 255.5h0M986.5 253.5h0M986.5 254.5h0M986.5 252.5h0M987.5 252.5h0M987.5 253.5h0M987.5 251.5h0M988.5 253.5h0M988.5 251.5h0M988.5 252.5h0M989.5 252.5h0M989.5 249.5h0M989.5 250.5h0M989.5 251.5h0M990.5 249.5h0M990.5 250.5h0M990.5 251.5h0M990.5 248.5h0M991.5 249.5h0M991.5 248.5h0M991.5 247.5h0M992.5 249.5h0M992.5 247.5h0M992.5 246.5h0M992.5 248.5h0M993.5 246.5h0M993.5 247.5h0M993.5 245.5h0M994.5 245.5h0M994.5 246.5h0M994.5 247.5h0M994.5 244.5h0M995.5 244.5h0M995.5 245.5h0M996.5 244.5h0M996.5 243.5h0M997.5 242.5h0M997.5 243.5h0M997.5 241.5h0M998.5 241.5h0M998.5 242.5h0M998.5 240.5h0M999.5 241.5h0M999.5 242.5h0M999.5 240.5h0M999.5 239.5h0M1000.5 240.5h0M1000.5 239.5h0M1001.5 240.5h0M1001.5 238.5h0M1001.5 239.5h0M1002.5 238.5h0M1002.5 237.5h0M1002.5 236.5h0M1003.5 237.5h0M1003.5 236.5h0M1003.5 238.5h0M1004.5 235.5h0M1004.5 237.5h0M1004.5 236.5h0M1004.5 234.5h0M1005.5 236.5h0M1005.5 235.5h0M1005.5 234.5h0M1006.5 233.5h0M1006.5 234.5h0M1007.5 234.5h0M1007.5 233.5h0M1007.5 232.5h0M1007.5 231.5h0M1008.5 232.5h0M1008.5 230.5h0M1008.5 231.5h0M1009.5 230.5h0M1009.5 231.5h0M1009.5 229.5h0M1010.5 231.5h0M1010.5 229.5h0M1010.5 230.5h0M1010.5 228.5h0M1011.5 228.5h0M1011.5 230.5h0M1011.5 229.5h0M1011.5 227.5h0M1012.5 227.5h0M1012.5 229.5h0M1012.5 228.5h0M1013.5 227.5h0M1013.5 226.5h0M1013.5 228.5h0M1013.5 225.5h0M1014.5 225.5h0M1014.5 226.5h0M1014.5 227.5h0M1014.5 224.5h0M1015.5 225.5h0M1015.5 226.5h0M1015.5 224.5h0M1016.5 224.5h0M1016.5 223.5h0M1017.5 222.5h0M1017.5 223.5h0M1017.5 221.5h0M1018.5 221.5h0M1018.5 223.5h0M1018.5 222.5h0M1019.5 221.5h0M1019.5 222.5h0M1019.5 219.5h0M1020.5 220.5h0M1020.5 221.5h0M1020.5 219.5h0M1021.5 219.5h0M1021.5 218.5h0M1021.5 220.5h0M1022.5 217.5h0M1022.5 218.5h0M1022.5 219.5h0M1022.5 216.5h0M1023.5 217.5h0M1023.5 215.5h0M1023.5 218.5h0M1023.5 216.5h0M1024.5 216.5h0M1024.5 215.5h0M1024.5 217.5h0M1025.5 214.5h0M1025.5 215.5h0M1026.5 213.5h0M1026.5 215.5h0M1026.5 214.5h0M1026.5 212.5h0M1027.5 214.5h0M1027.5 213.5h0M1027.5 212.5h0M1028.5 212.5h0M1028.5 211.5h0M1028.5 213.5h0M1029.5 212.5h0M1029.5 210.5h0M1029.5 211.5h0M1030.5 211.5h0M1030.5 210.5h0M1030.5 208.5h0M1030.5 209.5h0M1031.5 209.5h0M1031.5 210.5h0M1031.5 207.5h0M1032.5 207.5h0M1032.5 208.5h0M1033.5 206.5h0M1033.5 207.5h0M1033.5 208.5h0M1034.5 208.5h0M1034.5 207.5h0M1034.5 206.5h0M1034.5 205.5h0M1035.5 207.5h0M1035.5 205.5h0M1035.5 203.5h0M1035.5 204.5h0M1036.5 203.5h0M1036.5 206.5h0M1036.5 205.5h0M1036.5 204.5h0M1036.5 202.5h0M1037.5 204.5h0M1037.5 202.5h0M1037.5 203.5h0M1037.5 201.5h0M1038.5 204.5h0M1038.5 201.5h0M1038.5 203.5h0M1038.5 200.5h0M1039.5 200.5h0M1039.5 201.5h0M1039.5 202.5h0M1040.5 199.5h0M1040.5 201.5h0M1040.5 200.5h0M1041.5 200.5h0M1041.5 201.5h0M1041.5 198.5h0M1042.5 199.5h0M1042.5 197.5h0M1042.5 200.5h0M1042.5 196.5h0M1042.5 198.5h0M1043.5 199.5h0M1043.5 198.5h0M1044.5 198.5h0M1044.5 196.5h0M1044.5 197.5h0M1045.5 194.5h0M1045.5 197.5h0M1045.5 196.5h0M1046.5 194.5h0M1046.5 195.5h0M1046.5 193.5h0M1047.5 192.5h0M1047.5 193.5h0M1047.5 191.5h0M1048.5 192.5h0M1048.5 191.5h0M1048.5 193.5h0M1049.5 193.5h0M1049.5 192.5h0M1049.5 194.5h0M1049.5 190.5h0M1049.5 191.5h0M1050.5 189.5h0M1050.5 193.5h0M1050.5 192.5h0M1050.5 191.5h0M1051.5 192.5h0M1051.5 189.5h0M1051.5 191.5h0M1051.5 188.5h0M1051.5 190.5h0M1052.5 191.5h0M1052.5 188.5h0M1052.5 189.5h0M1052.5 190.5h0M1053.5 186.5h0M1053.5 190.5h0M1053.5 188.5h0M1053.5 189.5h0M1054.5 190.5h0M1054.5 189.5h0M1054.5 187.5h0M1054.5 188.5h0M1054.5 186.5h0M1054.5 185.5h0M1054.5 184.5h0M1055.5 186.5h0M1055.5 187.5h0M1055.5 184.5h0M1055.5 188.5h0M1055.5 185.5h0M1056.5 187.5h0M1056.5 185.5h0M1056.5 184.5h0M1056.5 186.5h0M1057.5 185.5h0M1057.5 184.5h0M1057.5 183.5h0M1057.5 182.5h0M1058.5 181.5h0M1058.5 184.5h0M1058.5 185.5h0M1058.5 182.5h0M1059.5 182.5h0M1059.5 181.5h0M1059.5 180.5h0M1059.5 179.5h0M1060.5 180.5h0M1060.5 181.5h0M1060.5 179.5h0M1061.5 182.5h0M1061.5 181.5h0M1061.5 183.5h0M1061.5 180.5h0M1061.5 179.5h0M1062.5 181.5h0M1062.5 179.5h0M1062.5 180.5h0M1062.5 178.5h0M1062.5 176.5h0M1062.5 177.5h0M1063.5 178.5h0M1063.5 176.5h0M1063.5 177.5h0M1063.5 175.5h0M1064.5 177.5h0M1064.5 178.5h0M1064.5 179.5h0M1065.5 174.5h0M1065.5 176.5h0M1065.5 173.5h0M1065.5 177.5h0M1065.5 175.5h0M1065.5 178.5h0M1066.5 174.5h0M1066.5 173.5h0M1066.5 175.5h0M1066.5 172.5h0M1067.5 172.5h0M1067.5 177.5h0M1067.5 174.5h0M1067.5 175.5h0M1067.5 173.5h0M1068.5 174.5h0M1068.5 172.5h0M1068.5 170.5h0M1068.5 173.5h0M1068.5 169.5h0M1069.5 174.5h0M1069.5 172.5h0M1069.5 171.5h0M1069.5 170.5h0M1069.5 173.5h0M1070.5 171.5h0M1070.5 168.5h0M1070.5 172.5h0M1070.5 169.5h0M1071.5 173.5h0M1071.5 170.5h0M1071.5 172.5h0M1071.5 171.5h0M1071.5 168.5h0M1072.5 171.5h0M1072.5 169.5h0M1072.5 167.5h0M1072.5 168.5h0M1073.5 168.5h0M1073.5 165.5h0M1073.5 166.5h0M1073.5 167.5h0M1073.5 169.5h0M1073.5 164.5h0M1074.5 168.5h0M1074.5 167.5h0M1074.5 165.5h0M1074.5 169.5h0M1074.5 164.5h0M1075.5 166.5h0M1075.5 167.5h0M1075.5 164.5h0M1075.5 163.5h0M1075.5 165.5h0M1076.5 162.5h0M1076.5 165.5h0M1076.5 167.5h0M1076.5 166.5h0M1076.5 163.5h0M1077.5 165.5h0M1077.5 166.5h0M1077.5 160.5h0M1077.5 162.5h0M1077.5 161.5h0M1077.5 163.5h0M1078.5 162.5h0M1078.5 161.5h0M1078.5 165.5h0M1078.5 164.5h0M1078.5 159.5h0M1079.5 161.5h0M1079.5 160.5h0M1079.5 163.5h0M1079.5 162.5h0M1080.5 158.5h0M1080.5 162.5h0M1080.5 160.5h0M1080.5 157.5h0M1080.5 159.5h0M1081.5 162.5h0M1081.5 158.5h0M1081.5 157.5h0M1081.5 159.5h0M1081.5 160.5h0M1082.5 158.5h0M1082.5 160.5h0M1082.5 157.5h0M1082.5 155.5h0M1083.5 156.5h0M1083.5 155.5h0M1083.5 157.5h0M1083.5 158.5h0M1083.5 153.5h0M1084.5 157.5h0M1084.5 155.5h0M1084.5 153.5h0M1085.5 157.5h0M1085.5 153.5h0M1085.5 152.5h0M1085.5 156.5h0M1085.5 155.5h0M1085.5 151.5h0M1085.5 154.5h0M1086.5 152.5h0M1086.5 156.5h0M1086.5 155.5h0M1086.5 151.5h0M1087.5 154.5h0M1087.5 151.5h0M1087.5 150.5h0M1087.5 153.5h0M1088.5 149.5h0M1088.5 151.5h0M1088.5 154.5h0M1088.5 152.5h0M1089.5 153.5h0M1089.5 150.5h0M1089.5 149.5h0M1089.5 147.5h0M1089.5 152.5h0M1090.5 147.5h0M1090.5 151.5h0M1090.5 148.5h0M1090.5 150.5h0M1091.5 148.5h0M1091.5 149.5h0M1091.5 150.5h0M1091.5 146.5h0M1092.5 148.5h0M1092.5 149.5h0M1092.5 146.5h0M1092.5 145.5h0M1092.5 147.5h0M1093.5 148.5h0M1093.5 145.5h0M1093.5 149.5h0M1093.5 147.5h0M1093.5 144.5h0M1094.5 143.5h0M1094.5 144.5h0M1094.5 146.5h0M1094.5 142.5h0M1095.5 146.5h0M1095.5 147.5h0M1095.5 144.5h0M1095.5 143.5h0M1095.5 141.5h0M1096.5 145.5h0M1096.5 143.5h0M1096.5 144.5h0M1096.5 142.5h0M1097.5 145.5h0M1097.5 144.5h0M1097.5 143.5h0M1097.5 140.5h0M1097.5 142.5h0M1098.5 143.5h0M1098.5 142.5h0M1098.5 140.5h0M1098.5 139.5h0M1099.5 138.5h0M1099.5 142.5h0M1099.5 139.5h0M1099.5 140.5h0M1099.5 141.5h0M1100.5 140.5h0M1100.5 141.5h0M1100.5 138.5h0M1100.5 137.5h0M1100.5 139.5h0M1101.5 139.5h0M1101.5 138.5h0M1101.5 136.5h0M1101.5 137.5h0M1102.5 136.5h0M1102.5 137.5h0M1102.5 139.5h0M1102.5 135.5h0M1103.5 134.5h0M1103.5 136.5h0M1103.5 135.5h0M1104.5 136.5h0M1104.5 137.5h0M1104.5 133.5h0M1104.5 135.5h0M1104.5 134.5h0M1105.5 137.5h0M1105.5 133.5h0M1105.5 132.5h0M1105.5 134.5h0M1105.5 135.5h0M1106.5 132.5h0M1106.5 135.5h0M1106.5 131.5h0M1106.5 134.5h0M1107.5 131.5h0M1107.5 133.5h0M1107.5 134.5h0M1108.5 130.5h0M1108.5 131.5h0M1108.5 132.5h0M1108.5 133.5h0M1109.5 129.5h0M1109.5 131.5h0M1109.5 132.5h0M1109.5 130.5h0M1110.5 131.5h0M1110.5 127.5h0M1110.5 130.5h0M1110.5 128.5h0M1111.5 128.5h0M1111.5 129.5h0M1111.5 127.5h0M1112.5 128.5h0M1112.5 129.5h0M1112.5 127.5h0M1112.5 125.5h0M1113.5 127.5h0M1113.5 126.5h0M1113.5 124.5h0M1114.5 127.5h0M1114.5 124.5h0M1114.5 125.5h0M1115.5 123.5h0M1115.5 122.5h0M1115.5 124.5h0M1115.5 125.5h0M1116.5 125.5h0M1116.5 122.5h0M1116.5 124.5h0M1116.5 123.5h0M1116.5 121.5h0M1117.5 123.5h0M1117.5 121.5h0M1117.5 124.5h0M1117.5 122.5h0M1118.5 122.5h0M1118.5 123.5h0M1118.5 120.5h0M1118.5 119.5h0M1118.5 121.5h0M1119.5 121.5h0M1119.5 119.5h0M1119.5 120.5h0M1120.5 120.5h0M1120.5 121.5h0M1120.5 117.5h0M1120.5 119.5h0M1120.5 118.5h0M1121.5 119.5h0M1121.5 117.5h0M1121.5 116.5h0M1122.5 116.5h0M1122.5 119.5h0M1122.5 118.5h0M1122.5 115.5h0M1123.5 118.5h0M1123.5 116.5h0M1123.5 115.5h0M1123.5 114.5h0M1124.5 114.5h0M1124.5 116.5h0M1124.5 117.5h0M1124.5 115.5h0M1124.5 113.5h0M1125.5 114.5h0M1125.5 113.5h0M1125.5 115.5h0M1125.5 116.5h0M1125.5 112.5h0M1126.5 112.5h0M1126.5 114.5h0M1126.5 113.5h0M1126.5 111.5h0M1127.5 112.5h0M1127.5 113.5h0M1127.5 111.5h0M1127.5 114.5h0M1127.5 110.5h0M1128.5 113.5h0M1128.5 112.5h0M1128.5 111.5h0M1128.5 110.5h0M1129.5 111.5h0M1129.5 109.5h0M1129.5 110.5h0M1130.5 108.5h0M1130.5 109.5h0M1130.5 107.5h0M1130.5 110.5h0M1131.5 108.5h0M1131.5 109.5h0M1131.5 107.5h0M1131.5 106.5h0M1132.5 106.5h0M1132.5 107.5h0M1132.5 109.5h0M1132.5 108.5h0M1133.5 106.5h0M1133.5 105.5h0M1133.5 107.5h0M1133.5 104.5h0M1134.5 107.5h0M1134.5 104.5h0M1134.5 105.5h0M1134.5 103.5h0M1135.5 105.5h0M1135.5 106.5h0M1135.5 103.5h0M1135.5 102.5h0M1136.5 103.5h0M1136.5 104.5h0M1136.5 102.5h0M1136.5 101.5h0M1137.5 101.5h0M1137.5 103.5h0M1137.5 104.5h0M1137.5 100.5h0M1137.5 102.5h0M1138.5 100.5h0M1138.5 101.5h0M1138.5 102.5h0M1138.5 103.5h0M1139.5 99.5h0M1139.5 102.5h0M1139.5 100.5h0M1139.5 101.5h0M1140.5 100.5h0M1140.5 99.5h0M1140.5 98.5h0M1141.5 100.5h0M1141.5 99.5h0M1141.5 96.5h0M1141.5 98.5h0M1142.5 99.5h0M1142.5 98.5h0M1142.5 96.5h0M1142.5 95.5h0M1142.5 97.5h0M1143.5 95.5h0M1143.5 96.5h0M1143.5 97.5h0M1144.5 97.5h0M1144.5 95.5h0M1144.5 94.5h0M1144.5 93.5h0M1144.5 96.5h0M1145.5 95.5h0M1145.5 93.5h0M1145.5 96.5h0M1145.5 92.5h0M1145.5 94.5h0M1146.5 92.5h0M1146.5 94.5h0M1146.5 91.5h0M1147.5 94.5h0M1147.5 93.5h0M1147.5 92.5h0M1147.5 91.5h0M1148.5 93.5h0M1148.5 90.5h0M1148.5 89.5h0M1149.5 89.5h0M1149.5 91.5h0M1149.5 92.5h0M1149.5 88.5h0M1150.5 88.5h0M1150.5 90.5h0M1150.5 87.5h0M1151.5 88.5h0M1151.5 90.5h0M1151.5 87.5h0M1151.5 89.5h0M1152.5 87.5h0M1152.5 86.5h0M1152.5 88.5h0M1152.5 85.5h0M1153.5 87.5h0M1153.5 85.5h0M1153.5 88.5h0M1153.5 84.5h0M1154.5 84.5h0M1154.5 87.5h0M1154.5 85.5h0M1154.5 83.5h0M1154.5 86.5h0M1155.5 84.5h0M1155.5 85.5h0M929.5 305.5h0M908.5 327.5h0M900.5 335.5h0M879.5 357.5h0M895.5 349.5h0M922.5 322.5h0M966.5 267.5h0M983.5 252.5h0M995.5 241.5h0M1001.5 243.5h0M957.5 287.5h0M1084.5 180.5h0M1027.5 199.5h0M1032.5 201.5h0M1045.5 187.5h0M1049.5 186.5h0M1057.5 175.5h0M1052.5 197.5h0M1073.5 159.5h0M1071.5 161.5h0M1071.5 141.5h0M1131.5 120.5h0M1122.5 111.5h0M1138.5 86.5h0M1131.5 103.5h0M1139.5 94.5h0M1147.5 98.5h0M1093.5 140.5h0M1101.5 144.5h0M1155.5 82.5h0"/>
<path class="diag" stroke-dashoffset="0.6" d="M717.91 521.67L1156.98 82.6"/>
</g>
<path class="spine" d="M721.5 519.5V86.5M1154.5 519.5V86.5M721.5 519.5H1154.5M721.5 86.5H1154.5"/>
<rect x="733" y="98" width="183" height="80" rx="4.89" ry="4.89" fill="#fff" fill-opacity="0.8" stroke="#ccc" stroke-opacity="0.8" stroke-width="2.22"/>
<circle cx="767.5" cy="120.5" r="1.78" fill="#000"/>
<circle cx="767.5" cy="156.5" r="3.2" fill="#ff8c00"/>
<text class="leg" x="811.76" y="126.6">training</text>
<text class="leg" x="811.76" y="162.82">test</text>
<text class="tick" text-anchor="middle" x="785.47" y="553.95"><tspan dx="0.6">−</tspan><tspan dx="-0.6">1.8</tspan></text>
<text class="tick" text-anchor="middle" x="864.21" y="553.95"><tspan dx="0.6">−</tspan><tspan dx="-0.6">1.6</tspan></text>
<text class="tick" text-anchor="middle" x="942.95" y="553.95"><tspan dx="0.6">−</tspan><tspan dx="-0.6">1.4</tspan></text>
<text class="tick" text-anchor="middle" x="1021.69" y="553.95"><tspan dx="0.6">−</tspan><tspan dx="-0.6">1.2</tspan></text>
<text class="tick" text-anchor="middle" x="1100.43" y="553.95"><tspan dx="0.6">−</tspan><tspan dx="-0.6">1.0</tspan></text>
<text class="tick" text-anchor="end" x="697.4" y="459.71"><tspan dx="0.6">−</tspan><tspan dx="-0.6">1.8</tspan></text>
<text class="tick" text-anchor="end" x="697.4" y="380.97"><tspan dx="0.6">−</tspan><tspan dx="-0.6">1.6</tspan></text>
<text class="tick" text-anchor="end" x="697.4" y="302.23"><tspan dx="0.6">−</tspan><tspan dx="-0.6">1.4</tspan></text>
<text class="tick" text-anchor="end" x="697.4" y="223.49"><tspan dx="0.6">−</tspan><tspan dx="-0.6">1.2</tspan></text>
<text class="tick" text-anchor="end" x="697.4" y="144.75"><tspan dx="0.6">−</tspan><tspan dx="-0.6">1.0</tspan></text>
<text class="lab" text-anchor="middle" x="937.45" y="586">DFT energy (eV/atom)</text>
<text class="lab" text-anchor="middle" transform="translate(640.35 302.93) rotate(-90)">MLP energy (eV/atom)</text>
</g>
</svg>
</body>
</html>
